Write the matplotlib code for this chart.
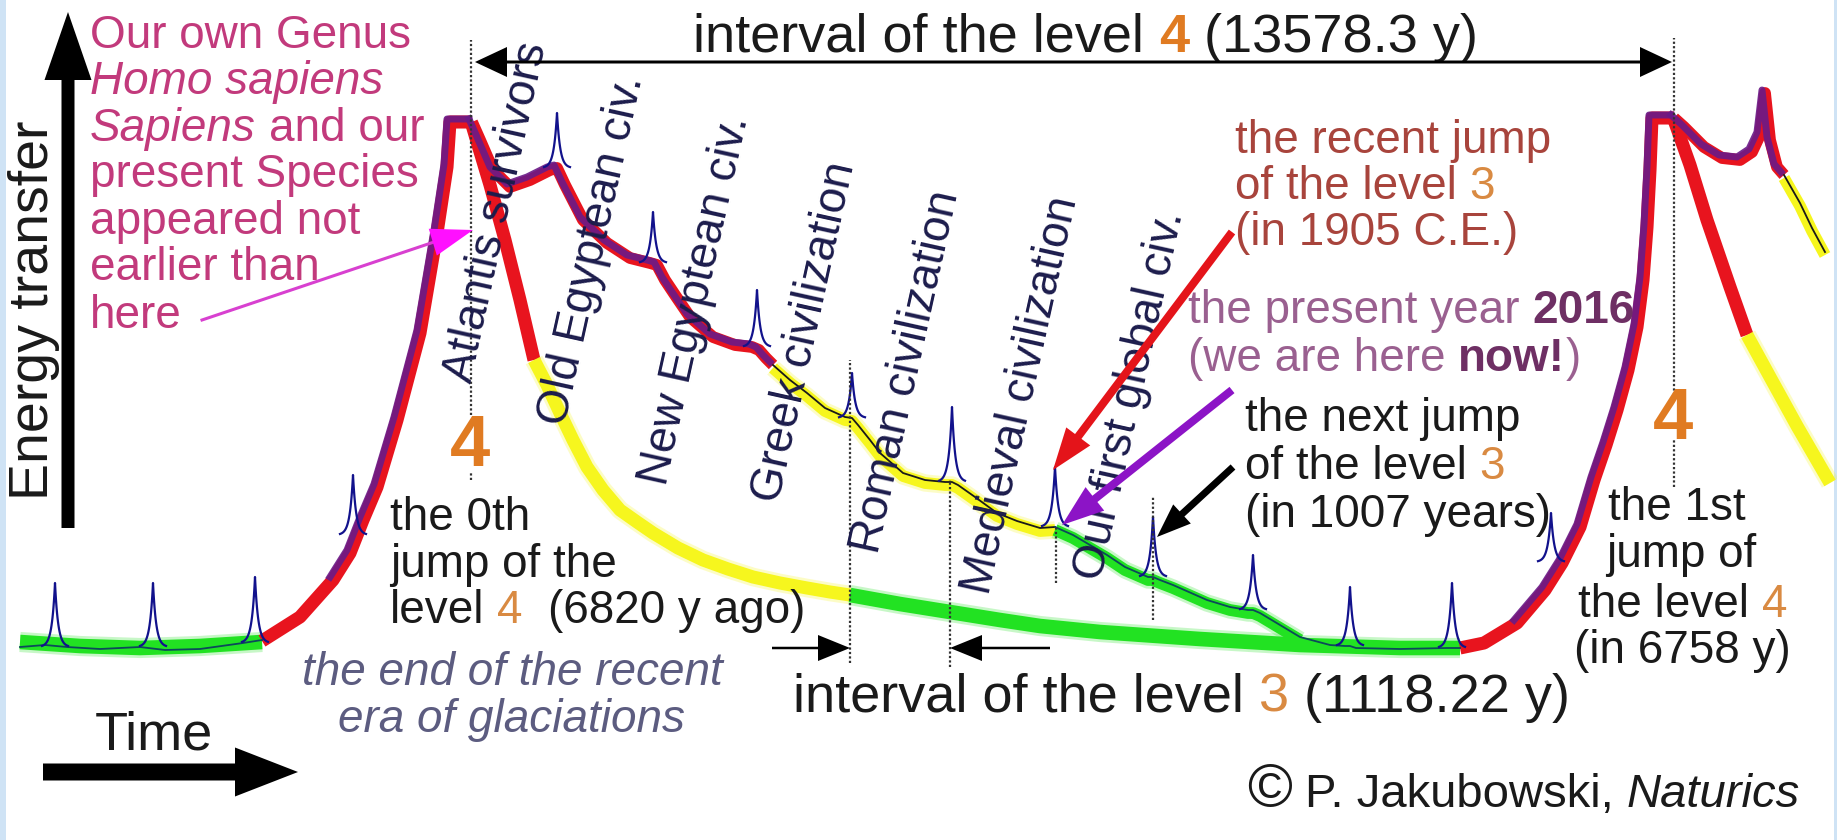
import numpy as np
import matplotlib
matplotlib.use("Agg")
import matplotlib.pyplot as plt
from matplotlib.patches import FancyArrow
from matplotlib.transforms import offset_copy

plt.rcParams["font.family"] = ["Liberation Sans", "DejaVu Sans"]

W, H = 1837, 840

# level 4 envelope (time position, energy)
base_t = [20, 80, 140, 200, 262]
base_e = [198, 194, 192, 194, 198]
rise_t = [262, 300, 333, 350, 363, 377, 397, 420, 437, 447, 450, 472]
rise_e = [199, 223, 260, 287, 320, 353, 420, 507, 607, 673, 718, 718]
fall_red_t = [472, 490, 505, 520, 534]
fall_red_e = [715, 655, 600, 540, 480]
fall_yel_t = [534, 547, 560, 573, 587, 603, 620, 637, 653, 678, 703, 728, 753, 780, 807, 830, 850]
fall_yel_e = [480, 455, 427, 400, 373, 350, 330, 318, 307, 292, 280, 271, 263, 257, 252, 248, 245]
fall_grn_t = [850, 900, 950, 1000, 1040, 1100, 1200, 1300, 1400, 1460]
fall_grn_e = [245, 236, 228, 220, 214, 208, 201, 195, 192, 192]

rise2_t = [1460, 1484, 1517, 1545, 1562, 1580, 1594, 1606, 1617, 1628, 1637, 1643, 1647, 1650, 1652, 1674]
rise2_e = [192, 197, 217, 250, 277, 313, 360, 395, 430, 470, 513, 560, 613, 670, 722, 722]
fall2_red_t = [1674, 1690, 1707, 1730, 1747]
fall2_red_e = [720, 675, 620, 553, 505]
fall2_yel_t = [1747, 1770, 1797, 1830]
fall2_yel_e = [505, 463, 414, 357]

# level 3 steps (civilizations)
civ_red_t = [472, 480, 493, 510, 530, 550, 557, 565, 583, 607, 630, 650, 657, 665, 675, 690, 713, 735, 752, 759, 766, 773]
civ_red_e = [718, 700, 670, 653, 660, 670, 672, 655, 620, 597, 582, 577, 575, 560, 545, 523, 503, 495, 493, 490, 482, 475]
civ_yel_t = [773, 790, 807, 825, 845, 852, 858, 870, 880, 903, 925, 945, 952, 958, 975, 997, 1017, 1040, 1055]
civ_yel_e = [475, 460, 447, 432, 423, 422, 415, 400, 387, 367, 360, 358, 358, 355, 343, 327, 319, 312, 313]
civ_grn_t = [1055, 1073, 1090, 1107, 1125, 1148, 1153, 1160, 1173, 1207, 1230, 1248, 1253, 1260, 1280, 1300,
             1330, 1345, 1350, 1356, 1400, 1447, 1452, 1460]
civ_grn_e = [313, 305, 295, 285, 273, 263, 263, 260, 255, 240, 233, 230, 230, 227, 215, 203,
             195, 194, 194, 192, 191, 192, 192, 192]
thin_base_t = [20, 45, 67, 100, 140, 165, 200, 243, 262]
thin_base_e = [193, 195, 193, 191, 193, 190, 191, 197, 200]
civ2_red_t = [1674, 1684, 1704, 1722, 1740, 1752, 1760, 1765, 1770, 1777, 1784]
civ2_red_e = [722, 713, 693, 682, 680, 688, 705, 747, 700, 673, 665]
civ2_yel_t = [1784, 1800, 1812, 1825]
civ2_yel_e = [665, 637, 612, 588]

# level 2 spikes
spike_t = [55, 153, 255, 353, 557, 653, 757, 852, 952, 1055, 1153, 1253, 1350, 1452, 1551]
spike_top = [257, 257, 263, 365, 727, 628, 550, 467, 433, 373, 323, 285, 253, 257, 327]
spike_base = [193, 193, 197, 305, 672, 577, 493, 422, 358, 313, 263, 230, 194, 192, 278]

# dotted markers (time, from, to)
dot_t = [471, 471, 1674, 1674, 850, 950, 1056, 1153]
dot_lo = [425, 360, 445, 353, 177, 173, 257, 220]
dot_hi = [800, 368, 802, 400, 480, 360, 313, 343]

civ_labels = ["Atlantis survivors", "Old Egyptean civ.", "New Egyptean civ.", "Greek civilization",
              "Roman civilization", "Medieval civilization", "Our first global civ."]
civ_lab_t = [497, 592, 695, 805, 906, 1021, 1130]
civ_lab_e = [628, 590, 540, 508, 468, 445, 445]

RED = "#e8141e"
PURP = "#6a1a88"
GRN = "#22e222"
YEL = "#f6f61e"
NAVY = "#12128c"
TEAL = "#0c4a5a"
ORANGE = "#e07b22"
ORANGE2 = "#d98a42"
INK = "#1a1a1a"

fig = plt.figure(figsize=(W / 100, H / 100), dpi=100)
ax = fig.add_axes([0, 0, 1, 1])
ax.set_xlim(0, W)
ax.set_ylim(0, H)
ax.axis("off")
ax.axvspan(0, 6, color="#cfe3f5", lw=0)
ax.axvspan(W - 3, W, color="#cfe3f5", lw=0)

up = offset_copy(ax.transData, fig=fig, x=-3, y=3, units="dots")
down = offset_copy(ax.transData, fig=fig, x=0, y=-3, units="dots")


def thick(t, e, color, lw=9.4, z=2, glow=False, **kw):
    if glow:
        ax.plot(t, e, color=color, lw=lw + 4, alpha=0.25, solid_capstyle="butt", zorder=z - 0.5, **kw)
    ax.plot(t, e, color=color, lw=lw, solid_capstyle="butt", solid_joinstyle="round", zorder=z, **kw)


# level 4 envelope
thick(base_t, base_e, GRN, lw=10.5, glow=True)
thick(rise_t, rise_e, RED)
thick(fall_red_t, fall_red_e, RED)
thick(fall_yel_t, fall_yel_e, YEL, glow=True)
thick(fall_grn_t, fall_grn_e, GRN, lw=10.5, glow=True)
thick(rise2_t, rise2_e, RED)
thick(fall2_red_t, fall2_red_e, RED)
thick(fall2_yel_t, fall2_yel_e, YEL, glow=True)

# level 3 steps
thick(civ_red_t, civ_red_e, RED, lw=8.5)
thick(civ_yel_t, civ_yel_e, YEL, lw=8.5, glow=True, transform=down)
thick(civ_grn_t[:16], civ_grn_e[:16], GRN, lw=8.5, glow=True, transform=down)
thick(civ2_red_t, civ2_red_e, RED, lw=8.5)
thick(civ2_yel_t, civ2_yel_e, YEL, lw=8.5, transform=down)

for t, e in [(rise_t[2:], rise_e[2:]), (civ_red_t, civ_red_e), (rise2_t[2:], rise2_e[2:]), (civ2_red_t, civ2_red_e)]:
    ax.plot(t, e, color=PURP, lw=5.0, alpha=0.9, transform=up, zorder=3, solid_joinstyle="round")

# thin lines
ax.plot(thin_base_t, thin_base_e, color=TEAL, lw=1.3, zorder=4)
ax.plot(civ_yel_t, civ_yel_e, color=INK, lw=1.3, zorder=4)
ax.plot(civ_grn_t, civ_grn_e, color=TEAL, lw=1.3, zorder=4)
ax.plot(civ2_yel_t, civ2_yel_e, color=INK, lw=1.3, zorder=4)

for t0, top, bot in zip(spike_t, spike_top, spike_base):
    d = np.linspace(-13, 13, 53)
    ax.plot(t0 + d, bot + (top - bot) * np.exp(-np.abs(d) / 3.2), color=NAVY, lw=1.6, zorder=4)

for t0, lo, hi in zip(dot_t, dot_lo, dot_hi):
    ax.plot([t0, t0], [lo, hi], color="#333333", lw=1.6, ls=(0, (1, 1)), zorder=5)


# arrows
def arrow(x0, y0, x1, y1, width, hw, hl, color, z=7):
    ax.add_patch(FancyArrow(x0, y0, x1 - x0, y1 - y0, width=width, head_width=hw, head_length=hl,
                            length_includes_head=True, color=color, lw=0, zorder=z))


arrow(68, 312, 68, 828, 13, 47, 68, "black")
arrow(43, 68, 298, 68, 17, 49, 63, "black")
arrow(1073, 778, 475, 778, 3, 30, 32, "black")
arrow(1073, 778, 1672, 778, 3, 30, 32, "black")
arrow(772, 192, 850, 192, 2.5, 26, 32, "black")
arrow(1050, 192, 950, 192, 2.5, 26, 32, "black")
arrow(1232, 608, 1053, 370, 8, 30, 42, "#e4141a")
arrow(1232, 450, 1062, 315, 8, 30, 42, "#8c14c6")
arrow(1233, 373, 1157, 303, 7, 26, 34, "black")
ax.plot([202, 440], [520, 600], color="#d840d0", lw=2.2, zorder=7)
arrow(430, 597, 473, 610, 0.5, 28, 42, "#ff10ff")

renderer = fig.canvas.get_renderer()


def rich_line(x, y, parts, size):
    cur = x
    for part in parts:
        txt, color = part[0], part[1]
        weight = part[2] if len(part) > 2 else "normal"
        style = part[3] if len(part) > 3 else "normal"
        fs = part[4] if len(part) > 4 else size
        space = 0.278 * fs * 100 / 72
        cur += space * (len(txt) - len(txt.lstrip(" ")))
        t = ax.text(cur, y, txt.strip(" "), fontsize=fs, color=color, fontweight=weight,
                    fontstyle=style, ha="left", va="baseline", zorder=6)
        bb = t.get_window_extent(renderer=renderer)
        cur = ax.transData.inverted().transform((bb.x1, 0))[0]
        cur += space * (len(txt) - len(txt.rstrip(" ")))


S = 33
rich_line(693, 788, [("interval of the level ", INK), ("4", ORANGE, "bold"), (" (13578.3 y)", INK)], 39)
rich_line(793, 128, [("interval of the level ", INK), ("3", ORANGE2), (" (1118.22 y)", INK)], 39)
ax.text(34, 530, "Energy transfer", rotation=90, ha="center", va="center", fontsize=40, color=INK, zorder=6)
ax.text(95, 90, "Time", ha="left", va="baseline", fontsize=39, color=INK, zorder=6)

PINK = "#c23a7c"
pink_lines = [[("Our own Genus", PINK)],
              [("Homo sapiens", PINK, "normal", "italic")],
              [("Sapiens", PINK, "normal", "italic"), (" and our", PINK)],
              [("present Species", PINK)],
              [("appeared not", PINK)],
              [("earlier than", PINK)],
              [("here", PINK)]]
for parts, y in zip(pink_lines, [792, 746, 699, 653, 606, 560, 512]):
    rich_line(90, y, parts, S)

for lab, t, e in zip(civ_labels, civ_lab_t, civ_lab_e):
    ax.text(t, e, lab, rotation=77.5, ha="center", va="center", fontsize=S, color="#1c1c4c", zorder=6)

ax.text(470, 393, "4", ha="center", va="center", fontsize=52, fontweight="bold", color=ORANGE, zorder=6)
ax.text(1673, 420, "4", ha="center", va="center", fontsize=52, fontweight="bold", color=ORANGE, zorder=6)

for parts, y in zip([[("the 0th", INK)], [("jump of the", INK)],
                     [("level ", INK), ("4", ORANGE2), ("  (6820 y ago)", INK)]], [310, 263, 217]):
    rich_line(390, y, parts, S)

GREY = "#5c5c80"
rich_line(302, 155, [("the end of the recent", GREY, "normal", "italic")], S)
rich_line(338, 108, [("era of glaciations", GREY, "normal", "italic")], S)

BROWN = "#a8443c"
for parts, y in zip([[("the recent jump", BROWN)], [("of the level ", BROWN), ("3", ORANGE2)],
                     [("(in 1905 C.E.)", BROWN)]], [687, 641, 595]):
    rich_line(1235, y, parts, S)

MAUVE, MAUVE2 = "#9a6090", "#6e2f64"
rich_line(1188, 517, [("the present year ", MAUVE), ("2016", MAUVE2, "bold")], S)
rich_line(1188, 469, [("(we are here ", MAUVE), ("now!", MAUVE2, "bold"), (")", MAUVE)], S)

for parts, y in zip([[("the next jump", INK)], [("of the level ", INK), ("3", ORANGE2)],
                     [("(in 1007 years)", INK)]], [409, 361, 313]):
    rich_line(1245, y, parts, S)

for parts, x, y in zip([[("the 1st", INK)], [("jump of", INK)], [("the level ", INK), ("4", ORANGE2)],
                        [("(in 6758 y)", INK)]], [1608, 1606, 1578, 1574], [320, 273, 223, 177]):
    rich_line(x, y, parts, S)

rich_line(1247, 33, [("\u00a9", INK, "normal", "normal", 44), (" P. Jakubowski, ", INK),
                     ("Naturics", INK, "normal", "italic")], 34)

fig.savefig("out.png", dpi=100, facecolor="white")
